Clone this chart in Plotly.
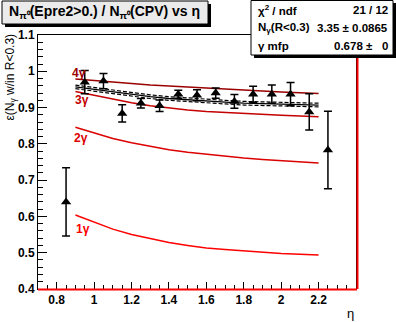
import plotly.graph_objects as go

# ---- data ----
eta_pts = [0.85, 0.95, 1.05, 1.15, 1.25, 1.35, 1.45, 1.55, 1.65, 1.75, 1.85, 1.95, 2.05, 2.15, 2.25]
eff_pts = [0.640, 0.970, 0.973, 0.884, 0.912, 0.905, 0.937, 0.934, 0.940, 0.917, 0.937, 0.937, 0.937, 0.888, 0.783]
eff_err = [0.094, 0.032, 0.021, 0.024, 0.013, 0.016, 0.011, 0.015, 0.014, 0.019, 0.022, 0.025, 0.032, 0.050, 0.107]

eta_curve = [0.9, 1.0, 1.1, 1.2, 1.3, 1.4, 1.5, 1.6, 1.7, 1.8, 1.9, 2.0, 2.1, 2.2]
eff_1g = [0.604, 0.584, 0.565, 0.550, 0.538, 0.528, 0.520, 0.513, 0.509, 0.505, 0.501, 0.498, 0.496, 0.494]
eff_2g = [0.846, 0.830, 0.815, 0.803, 0.793, 0.784, 0.777, 0.771, 0.766, 0.761, 0.757, 0.753, 0.750, 0.747]
eff_3g = [0.944, 0.933, 0.922, 0.913, 0.905, 0.898, 0.893, 0.889, 0.886, 0.883, 0.881, 0.879, 0.877, 0.875]
eff_4g = [0.979, 0.974, 0.970, 0.966, 0.962, 0.959, 0.956, 0.953, 0.950, 0.947, 0.945, 0.943, 0.941, 0.939]
fit_mid = [0.957, 0.950, 0.943, 0.937, 0.930, 0.925, 0.921, 0.918, 0.915, 0.912, 0.911, 0.909, 0.908, 0.907]
fit_up = [0.962, 0.955, 0.948, 0.942, 0.935, 0.930, 0.926, 0.923, 0.920, 0.917, 0.916, 0.914, 0.913, 0.912]
fit_lo = [0.952, 0.945, 0.938, 0.932, 0.925, 0.920, 0.916, 0.913, 0.910, 0.907, 0.906, 0.904, 0.903, 0.902]

x_ticks = [0.8, 1.0, 1.2, 1.4, 1.6, 1.8, 2.0, 2.2]
x_tick_labels = ["0.8", "1", "1.2", "1.4", "1.6", "1.8", "2", "2.2"]

curve_labels = ["1γ", "2γ", "3γ", "4γ"]
curve_label_x = [0.893, 0.882, 0.887, 0.871]
curve_label_y = [0.565, 0.816, 0.922, 0.995]
curve_colors = ["#ff0000", "#dd0000", "#c40000", "#990000"]

stat_names = ["χ<sup>2</sup> / ndf", "N<sub>γ</sub>(R&lt;0.3)", "γ mfp"]
stat_values = ["21 / 12", "3.35 ± 0.0865", "0.678 ±"]

# ---- geometry helpers (pixel -> paper) ----
W, H = 396, 322
L, R, T, B = 38, 356, 35, 289
def px(x):
    return (x - L) / (R - L)
def py(y):
    return (B - y) / (B - T)

FONT = "Liberation Sans, Arial, sans-serif"

fig = go.Figure()

for ys, c in zip([eff_1g, eff_2g, eff_3g, eff_4g], curve_colors):
    fig.add_trace(go.Scatter(x=eta_curve, y=ys, mode="lines",
                             line=dict(color=c, width=1.5), showlegend=False,
                             hoverinfo="skip"))

fig.add_trace(go.Scatter(x=eta_curve, y=fit_up, mode="lines",
                         line=dict(color="black", width=1.2, dash="4px,2px"), showlegend=False))
fig.add_trace(go.Scatter(x=eta_curve, y=fit_lo, mode="lines",
                         line=dict(color="black", width=1.2, dash="4px,2px"), showlegend=False))
fig.add_trace(go.Scatter(x=eta_curve, y=fit_mid, mode="lines",
                         line=dict(color="black", width=1.3), showlegend=False))

fig.add_trace(go.Scatter(x=eta_pts, y=eff_pts, mode="markers",
                         marker=dict(symbol="triangle-up", size=9, color="black"),
                         error_y=dict(type="data", array=eff_err, color="black",
                                      thickness=1.5, width=4),
                         showlegend=False))

shapes = []
# red frame overlays (right & bottom)
shapes.append(dict(type="line", xref="paper", yref="paper", x0=px(357.5), x1=px(357.5),
                   y0=py(B), y1=py(T), line=dict(color="#ff0000", width=2), layer="above"))
shapes.append(dict(type="line", xref="paper", yref="paper", x0=px(L), x1=px(357),
                   y0=py(289.5), y1=py(289.5), line=dict(color="#ff0000", width=2), layer="above"))
# title box shadow + box
shapes.append(dict(type="rect", xref="paper", yref="paper", x0=px(5), x1=px(211),
                   y0=py(27), y1=py(4), fillcolor="black", line=dict(width=0), layer="above"))
shapes.append(dict(type="rect", xref="paper", yref="paper", x0=px(2), x1=px(208),
                   y0=py(24), y1=py(1), fillcolor="#ebebeb", line=dict(color="black", width=1), layer="above"))
# stats box shadow + box
shapes.append(dict(type="rect", xref="paper", yref="paper", x0=px(254), x1=px(397),
                   y0=py(58), y1=py(3), fillcolor="black", line=dict(width=0), layer="above"))
shapes.append(dict(type="rect", xref="paper", yref="paper", x0=px(251), x1=px(393),
                   y0=py(55), y1=py(0.5), fillcolor="white", line=dict(color="black", width=1), layer="above"))

annotations = []
annotations.append(dict(xref="paper", yref="paper", x=px(104), y=py(12),
                        text="<b>N<sub>π⁰</sub>(Epre2&gt;0.) / N<sub>π⁰</sub>(CPV) vs η</b>",
                        showarrow=False, xanchor="center", yanchor="middle",
                        font=dict(family=FONT, size=14, color="black")))
for i, (n, v) in enumerate(zip(stat_names, stat_values)):
    yy = py(10 + 18 * i)
    annotations.append(dict(xref="paper", yref="paper", x=px(256), y=yy, text="<b>" + n + "</b>",
                            showarrow=False, xanchor="left", yanchor="middle",
                            font=dict(family=FONT, size=11.5, color="black")))
    annotations.append(dict(xref="paper", yref="paper", x=px(390 if i < 2 else 375), y=yy,
                            text="<b>" + v + "</b>", showarrow=False, xanchor="right", yanchor="middle",
                            font=dict(family=FONT, size=11.5, color="black")))
annotations.append(dict(xref="paper", yref="paper", x=px(390), y=py(46), text="<b>0</b>",
                        showarrow=False, xanchor="right", yanchor="middle",
                        font=dict(family=FONT, size=11.5, color="black")))
for t, xx, yy, c in zip(curve_labels, curve_label_x, curve_label_y, curve_colors):
    annotations.append(dict(x=xx, y=yy, xref="x", yref="y", text="<b>" + t + "</b>",
                            showarrow=False, xanchor="left", yanchor="middle",
                            font=dict(family=FONT, size=12, color=c)))
annotations.append(dict(xref="paper", yref="paper", x=px(10), y=py(32),
                        text="ε(N<sub>γ</sub> w/in R&lt;0.3)", textangle=-90,
                        showarrow=False, xanchor="center", yanchor="top",
                        font=dict(family=FONT, size=12, color="black")))
annotations.append(dict(xref="paper", yref="paper", x=px(350), y=py(313), text="η",
                        showarrow=False, xanchor="center", yanchor="middle",
                        font=dict(family=FONT, size=13, color="black")))

fig.update_layout(
    width=W, height=H,
    margin=dict(l=L, r=W - R, t=T, b=H - B, pad=0),
    paper_bgcolor="white", plot_bgcolor="white",
    showlegend=False,
    shapes=shapes, annotations=annotations,
    xaxis=dict(range=[0.7, 2.4], tickvals=x_ticks, ticktext=x_tick_labels,
               ticks="inside", ticklen=7,
               tickcolor="black", tickwidth=1, showgrid=False, zeroline=False,
               showline=True, linecolor="black", linewidth=1, mirror=True,
               tickfont=dict(family=FONT, size=12, color="black", weight="bold"),
               minor=dict(dtick=0.05, tick0=0.7, ticks="inside", ticklen=4, tickcolor="black", showgrid=False)),
    yaxis=dict(range=[0.4, 1.1], tick0=0.4, dtick=0.1, ticks="inside", ticklen=9,
               tickcolor="black", tickwidth=1, showgrid=False, zeroline=False,
               showline=True, linecolor="black", linewidth=1, mirror=True,
               tickfont=dict(family=FONT, size=12, color="black", weight="bold"),
               minor=dict(dtick=0.02, ticks="inside", ticklen=5, tickcolor="black", showgrid=False)),
)

fig.write_html("out.html")
